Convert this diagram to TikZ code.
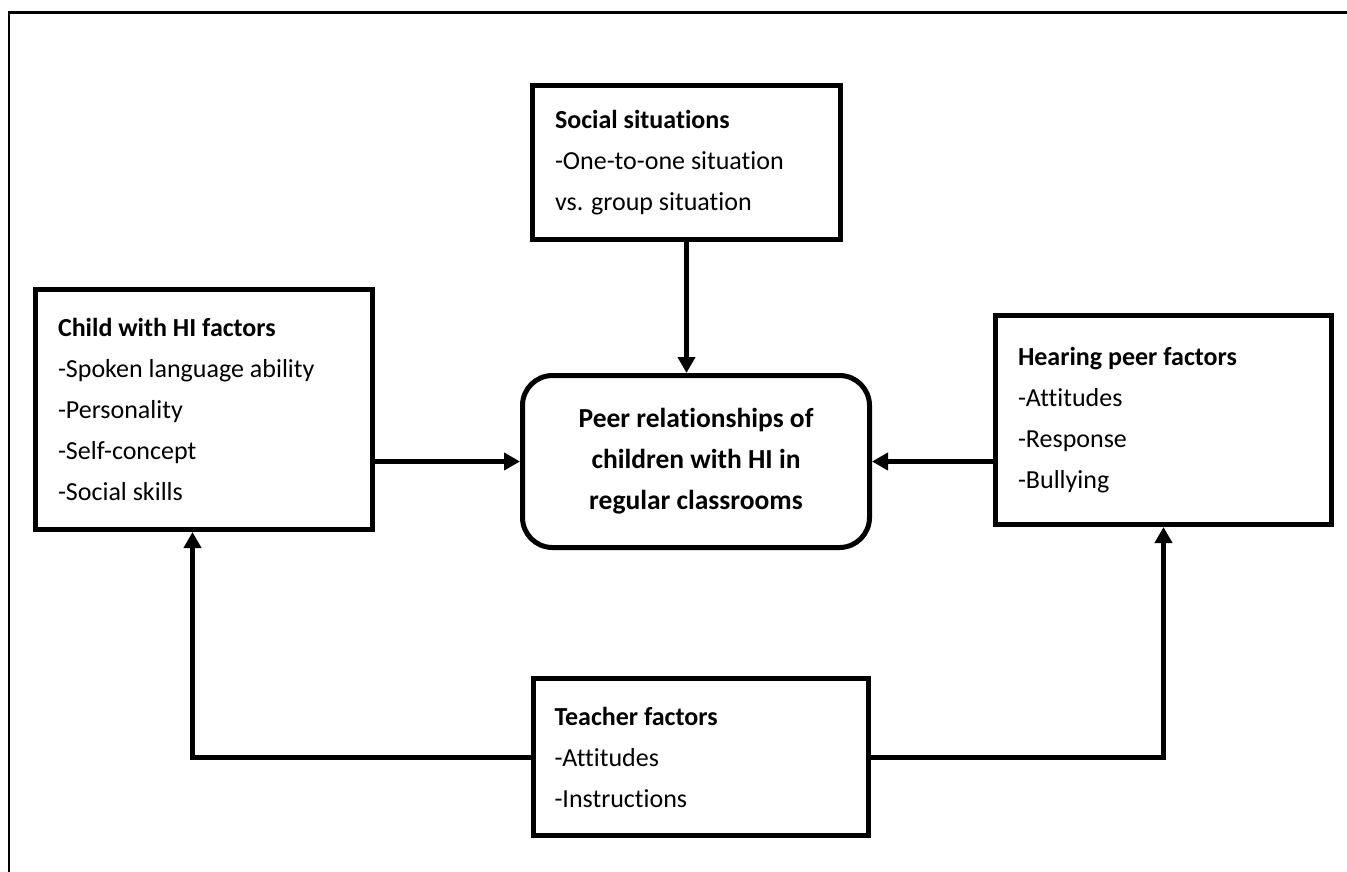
\documentclass[tikz,border=0pt]{standalone}
\usepackage{fontspec}
\setmainfont{Carlito}[Ligatures=NoCommon]
\usetikzlibrary{arrows.meta,calc}
\begin{document}
\begin{tikzpicture}[x=1pt,y=-1pt,
  factorbox/.style={draw,line width=5pt,rectangle,align=flush left,
    inner xsep=22.5pt,inner ysep=0pt,
    font=\fontsize{26}{41}\selectfont},
  hubbox/.style={draw,line width=5pt,rectangle,rounded corners=30pt,
    align=flush center,inner sep=0pt,
    font=\fontsize{27.5}{41}\selectfont\bfseries},
  link/.style={line width=5pt,-{Triangle[width=17pt,length=16pt]}},
  frameline/.style={line width=2.5pt},
]
\useasboundingbox (0,0) rectangle (1347,872);
% page frame (open at the right and bottom)
\draw[frameline] (9,872) -- (9,12.5) -- (1347,12.5);

% factor boxes
\node[factorbox,text width=263pt,minimum height=154pt] (social) at (686.5,162.5)
  {\textbf{Social situations}\\-One-to-one situation\\vs. group situation};
\node[factorbox,text width=292pt,minimum height=240pt] (child) at (204,409.5)
  {\textbf{Child with HI factors}\\-Spoken language ability\\-Personality\\-Self-concept\\-Social skills};
\node[factorbox,text width=291pt,minimum height=209pt] (hearing) at (1163.5,420)
  {\textbf{Hearing peer factors}\\-Attitudes\\-Response\\-Bullying};
\node[factorbox,inner xsep=21pt,text width=293pt,minimum height=157pt] (teacher) at (701,757)
  {\textbf{Teacher factors}\\-Attitudes\\-Instructions};

% central outcome
\node[hubbox,minimum width=347pt,minimum height=172pt] (hub) at (696,461.5)
  {Peer relationships of\\children with HI in\\regular classrooms};

% influences
\draw[link] (social.south) -- (social.south |- hub.north);
\draw[link] (hub.west -| child.east) -- (hub.west);
\draw[link] (hub.east -| hearing.west) -- (hub.east);
\coordinate (childfoot) at ($(child.south)+(-11.5,0)$);
\draw[link] (teacher.west) -| (childfoot);
\draw[link] (teacher.east) -| (hearing.south);
\end{tikzpicture}
\end{document}
